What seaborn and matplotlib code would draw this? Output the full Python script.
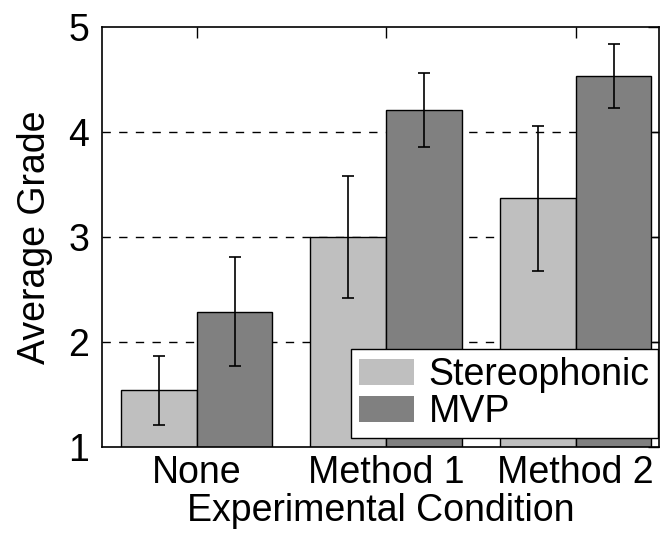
import numpy as np
import pandas as pd
import matplotlib
matplotlib.use("Agg")
import matplotlib.pyplot as plt
import seaborn as sns

# Data
conditions = ["None", "Method 1", "Method 2"]
methods = ["Stereophonic", "MVP"]
stereo_mean = [1.54, 3.00, 3.37]
stereo_low = [1.21, 2.42, 2.68]
stereo_high = [1.87, 3.58, 4.06]
mvp_mean = [2.29, 4.21, 4.53]
mvp_low = [1.77, 3.86, 4.23]
mvp_high = [2.81, 4.56, 4.84]

palette = {"Stereophonic": "#bfbfbf", "MVP": "#808080"}

df = pd.DataFrame({
    "Condition": conditions * 2,
    "Method": [methods[0]] * 3 + [methods[1]] * 3,
    "Grade": stereo_mean + mvp_mean,
    "Low": stereo_low + mvp_low,
    "High": stereo_high + mvp_high,
})

sns.set_theme(style="white")
plt.rcParams["font.family"] = ["Liberation Sans", "DejaVu Sans"]
plt.rcParams["text.color"] = "black"
plt.rcParams["axes.labelcolor"] = "black"

FS = 27

fig = plt.figure(figsize=(6.62, 5.36), dpi=100)
ax = fig.add_axes([0.154, 0.166, 0.8415, 0.7834])

# dashed grid behind the bars
for yv in [2, 3, 4]:
    ax.axhline(yv, color="black", linestyle=(0, (6, 6)), linewidth=1.0, zorder=0)

sns.barplot(
    data=df, x="Condition", y="Grade", hue="Method",
    order=conditions, hue_order=methods, palette=palette,
    errorbar=None, width=0.8, edgecolor="black", linewidth=1.0,
    saturation=1, ax=ax, zorder=2,
)

# asymmetric error bars placed on the seaborn bar centres
for container, m in zip(ax.containers, methods):
    sub = df[df["Method"] == m].set_index("Condition").loc[conditions]
    xs = [p.get_x() + p.get_width() / 2 for p in container.patches]
    yerr = np.vstack([sub["Grade"] - sub["Low"], sub["High"] - sub["Grade"]])
    ax.errorbar(xs, sub["Grade"], yerr=yerr, fmt="none", ecolor="black",
                elinewidth=1.2, capsize=4, capthick=1.2, zorder=3)

ax.set_ylim(1, 5)
ax.set_xlim(-0.5, 2.44)
ax.set_yticks([1, 2, 3, 4, 5])
ax.set_xlabel("Experimental Condition", fontsize=FS, labelpad=1, color="black")
ax.set_ylabel("Average Grade", fontsize=FS, labelpad=11, color="black")
ax.tick_params(axis="both", direction="in", length=8, width=1.0,
               top=True, right=True, labelsize=FS, colors="black")
ax.tick_params(axis="y", pad=9)
ax.tick_params(axis="x", pad=6)
for s in ax.spines.values():
    s.set_visible(True)
    s.set_color("black")
    s.set_linewidth(1.2)

leg = ax.legend(loc="lower right", bbox_to_anchor=(0.998, 0.021),
                fontsize=FS, frameon=True, fancybox=False,
                framealpha=1, edgecolor="black", handlelength=1.45,
                handletextpad=0.4, borderpad=0.22, labelspacing=0.03,
                borderaxespad=0)
leg.get_frame().set_linewidth(1.0)
for h in leg.legend_handles:
    h.set_edgecolor("none")

fig.savefig("out.png", dpi=100)
